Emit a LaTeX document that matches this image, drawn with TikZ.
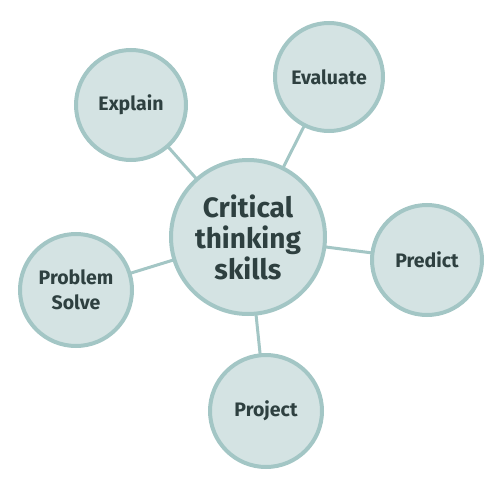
\documentclass[tikz,border=0pt]{standalone}
\usepackage{fontspec}
\setmainfont{Fira Sans}
\definecolor{cfill}{HTML}{D4E3E3}
\definecolor{cline}{HTML}{A3C6C5}
\definecolor{ctext}{HTML}{2E4040}
\begin{document}
\begin{tikzpicture}[x=1pt,y=-1pt,
  bubble/.style={circle,draw=cline,fill=cfill,line width=4pt,text=ctext,
    font=\bfseries\fontsize{19.5}{25}\selectfont,align=center,inner sep=0pt},
  link/.style={draw=cline,line width=3pt}]
\useasboundingbox (0,0) rectangle (500,500);
\coordinate (pc) at (248,237);
\coordinate (pe) at (131,105);
\coordinate (pv) at (329,77);
\coordinate (pp) at (427,260);
\coordinate (ps) at (76,290);
\coordinate (pj) at (266,411);
\draw[link] (pc) -- (pe);
\draw[link] (pc) -- (pv);
\draw[link] (pc) -- (pp);
\draw[link] (pc) -- (ps);
\draw[link] (pc) -- (pj);
\node[bubble,minimum size=154pt,font=\bfseries\fontsize{28}{31}\selectfont] (c) at (pc) {Critical\\thinking\\skills};
\node[bubble,minimum size=110pt] (e) at (pe) {Explain};
\node[bubble,minimum size=108pt] (v) at (pv) {Evaluate};
\node[bubble,minimum size=110pt] (p) at (pp) {Predict};
\node[bubble,minimum size=112pt] (s) at (ps) {Problem\\Solve};
\node[bubble,minimum size=112pt] (j) at (pj) {Project};
\end{tikzpicture}
\end{document}
